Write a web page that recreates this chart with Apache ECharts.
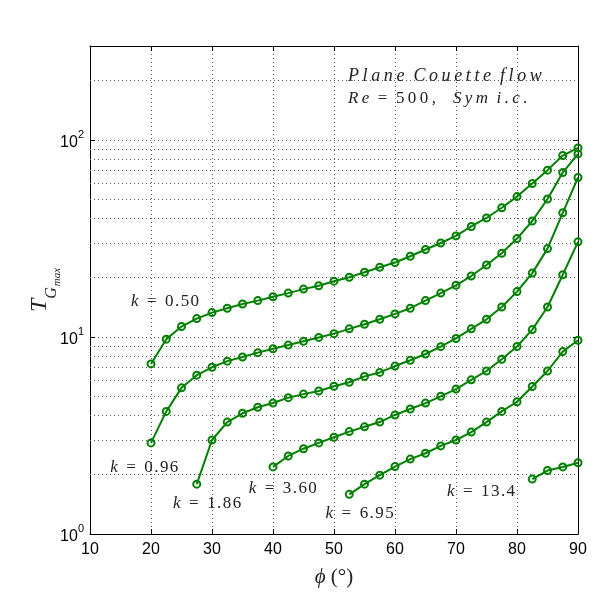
<!DOCTYPE html>
<html><head><meta charset="utf-8">
<script src="https://cdn.jsdelivr.net/npm/echarts@6/dist/echarts.min.js"></script>
<style>html,body{margin:0;padding:0;background:#fff}#c{width:599px;height:599px}</style>
</head><body><div id="c"></div>
<script>
// ---- data ----
const xTicks = [10, 20, 30, 40, 50, 60, 70, 80, 90];
const yMajor = [1, 10, 100];
const yMinor = [2, 3, 4, 5, 6, 7, 8, 9, 20, 30, 40, 50, 60, 70, 80, 90, 200];
const kNames = ['0.50', '0.96', '1.86', '3.60', '6.95', '13.4'];

const phi050 = [20, 22.5, 25, 27.5, 30, 32.5, 35, 37.5, 40, 42.5, 45, 47.5, 50, 52.5, 55, 57.5, 60, 62.5, 65, 67.5, 70, 72.5, 75, 77.5, 80, 82.5, 85, 87.5, 90];
const val050 = [7.3, 9.75, 11.3, 12.4, 13.3, 14.0, 14.7, 15.3, 16.0, 16.7, 17.5, 18.2, 19.2, 20.1, 21.3, 22.6, 23.9, 25.7, 27.8, 30.0, 32.6, 36.4, 40.2, 45.3, 51.6, 60.1, 70.3, 83.4, 91.2];

const phi096 = [20, 22.5, 25, 27.5, 30, 32.5, 35, 37.5, 40, 42.5, 45, 47.5, 50, 52.5, 55, 57.5, 60, 62.5, 65, 67.5, 70, 72.5, 75, 77.5, 80, 82.5, 85, 87.5, 90];
const val096 = [2.90, 4.19, 5.52, 6.40, 7.02, 7.54, 7.91, 8.33, 8.72, 9.10, 9.52, 9.95, 10.4, 11.0, 11.6, 12.3, 13.1, 14.0, 15.3, 16.7, 18.3, 20.4, 23.2, 26.6, 31.6, 38.8, 50.2, 68.3, 85.0];

const phi186 = [27.5, 30, 32.5, 35, 37.5, 40, 42.5, 45, 47.5, 50, 52.5, 55, 57.5, 60, 62.5, 65, 67.5, 70, 72.5, 75, 77.5, 80, 82.5, 85, 87.5, 90];
const val186 = [1.79, 3.0, 3.70, 4.10, 4.40, 4.62, 4.92, 5.13, 5.32, 5.62, 5.89, 6.31, 6.61, 7.12, 7.62, 8.20, 8.93, 9.83, 11.0, 12.3, 14.2, 17.0, 21.1, 28.1, 42.7, 64.5];

const phi360 = [40, 42.5, 45, 47.5, 50, 52.5, 55, 57.5, 60, 62.5, 65, 67.5, 70, 72.5, 75, 77.5, 80, 82.5, 85, 87.5, 90];
const val360 = [2.19, 2.49, 2.71, 2.90, 3.10, 3.31, 3.50, 3.70, 4.02, 4.31, 4.62, 5.0, 5.44, 6.06, 6.72, 7.71, 8.95, 10.9, 14.2, 20.7, 30.4];

const phi695 = [52.5, 55, 57.5, 60, 62.5, 65, 67.5, 70, 72.5, 75, 77.5, 80, 82.5, 85, 87.5, 90];
const val695 = [1.59, 1.79, 1.99, 2.20, 2.40, 2.57, 2.80, 3.0, 3.29, 3.70, 4.19, 4.69, 5.61, 6.72, 8.43, 9.63];

const phi134 = [82.5, 85, 87.5, 90];
const val134 = [1.90, 2.10, 2.19, 2.30];

// label anchor positions (data coordinates)
const labelPhi = [22.3, 18.9, 29.2, 41.6, 54.2, 74.1];
const labelVal = [15.1, 2.18, 1.43, 1.71, 1.27, 1.65];

// ---- chart ----
const SERIF = '"Liberation Serif", "DejaVu Serif", serif';
const SANS = '"Liberation Sans", Arial, sans-serif';
const GREEN = '#008000';
const TS = '\u2009';
const HS = '\u200a';
const EN = '\u2002';
const ZW = '\u200b';
const spaced = (s, sp) => s.split('').join(sp || TS);

const allPhi = [phi050, phi096, phi186, phi360, phi695, phi134];
const allVal = [val050, val096, val186, val360, val695, val134];

const gridDot = { color: '#555', width: 1, type: [1, 3] };

const series = allPhi.map((ph, i) => ({
  type: 'line',
  name: 'k = ' + kNames[i],
  data: ph.map((p, j) => [p, allVal[i][j]]),
  symbol: 'circle',
  symbolSize: 7,
  showSymbol: true,
  lineStyle: { color: GREEN, width: 2 },
  itemStyle: { color: 'rgba(255,255,255,0)', borderColor: GREEN, borderWidth: 2 },
  emphasis: { disabled: true },
  animation: false,
  z: 5,
  markPoint: {
    silent: true,
    symbol: 'circle',
    symbolSize: 0,
    animation: false,
    data: [{
      coord: [labelPhi[i], labelVal[i]],
      label: {
        show: true, position: 'inside',
        formatter: '{k|k}{n|' + ZW + EN + '=' + EN + spaced(kNames[i], HS) + '}',
        rich: {
          k: { fontFamily: SERIF, fontStyle: 'italic', fontSize: 17, color: '#222' },
          n: { fontFamily: SERIF, fontSize: 17, color: '#222' }
        }
      }
    }]
  }
}));

// minor grid lines
series.push({
  type: 'line', data: [], silent: true, animation: false,
  markLine: {
    silent: true, symbol: 'none', animation: false,
    label: { show: false },
    lineStyle: gridDot,
    data: yMinor.map(v => ({ yAxis: v }))
  }
});

const logLabel = v => {
  const l = Math.log10(v);
  const e = Math.round(l);
  if (Math.abs(l - e) > 1e-6 || yMajor.indexOf(Math.pow(10, e)) < 0) return '';
  return '{b|10}{s|' + e + '}';
};

const option = {
  backgroundColor: '#fff',
  animation: false,
  grid: { left: 90, right: 21, top: 46, bottom: 65, containLabel: false },
  xAxis: [{
    type: 'value', min: 10, max: 90, interval: 10, position: 'bottom',
    axisLine: { show: true, onZero: false, lineStyle: { color: '#000', width: 1 } },
    axisTick: { show: true, inside: true, length: 5, lineStyle: { color: '#000' } },
    axisLabel: { color: '#000', fontFamily: SANS, fontSize: 16, margin: 8 },
    splitLine: { show: true, lineStyle: gridDot },
    name: '{p|ϕ}{n|' + ZW + ' (°)}',
    nameLocation: 'middle', nameGap: 33, nameMoveOverlap: false,
    nameTextStyle: {
      rich: {
        p: { fontFamily: SERIF, fontStyle: 'italic', fontSize: 21, color: '#222' },
        n: { fontFamily: SERIF, fontSize: 21, color: '#222' }
      }
    }
  }, {
    type: 'value', min: 10, max: 90, interval: 10, position: 'top',
    axisLine: { show: true, onZero: false, lineStyle: { color: '#000', width: 1 } },
    axisTick: { show: true, inside: true, length: 5, lineStyle: { color: '#000' } },
    axisLabel: { show: false },
    splitLine: { show: false }
  }],
  yAxis: [{
    type: 'log', logBase: 10, min: 1, max: 300, interval: 1, position: 'left',
    axisLine: { show: true, onZero: false, lineStyle: { color: '#000', width: 1 } },
    axisTick: { show: true, inside: true, length: 5, lineStyle: { color: '#000' } },
    axisLabel: {
      formatter: logLabel, margin: 6,
      rich: {
        b: { fontFamily: SANS, fontSize: 16, color: '#000', lineHeight: 22, verticalAlign: 'bottom' },
        s: { fontFamily: SANS, fontSize: 11, color: '#000', lineHeight: 12, verticalAlign: 'top' }
      }
    },
    splitLine: { show: true, lineStyle: gridDot },
    name: '{t|T}{g|G}{m|max}',
    nameLocation: 'middle', nameGap: 30, nameRotate: 90, nameMoveOverlap: false,
    nameTextStyle: {
      rich: {
        t: { fontFamily: SERIF, fontStyle: 'italic', fontSize: 24, color: '#222', lineHeight: 32, verticalAlign: 'top' },
        g: { fontFamily: SERIF, fontStyle: 'italic', fontSize: 16, color: '#222', lineHeight: 32, verticalAlign: 'bottom' },
        m: { fontFamily: SERIF, fontStyle: 'italic', fontSize: 11, color: '#222', lineHeight: 32, verticalAlign: 'bottom', padding: [0, 0, -3, 1] }
      }
    }
  }, {
    type: 'log', logBase: 10, min: 1, max: 300, interval: 1, position: 'right',
    axisLine: { show: true, onZero: false, lineStyle: { color: '#000', width: 1 } },
    axisTick: { show: true, inside: true, length: 5, lineStyle: { color: '#000' } },
    axisLabel: { show: false },
    splitLine: { show: false }
  }],
  graphic: [{
    type: 'text', left: 348, top: 67, silent: true,
    style: { text: 'Plane Couette flow'.split(' ').map(w => spaced(w)).join('  '), font: 'italic 18px ' + SERIF, fill: '#222' }
  }, {
    type: 'text', left: 348, top: 90, silent: true,
    style: {
      text: '{i|' + spaced('Re') + '}{n|' + ZW + EN + '=' + EN + spaced('500,') + EN + EN + ZW + '}{i|' + spaced('Sym') + '  ' + spaced('i.c.') + '}',
      rich: {
        i: { fontFamily: SERIF, fontStyle: 'italic', fontSize: 17, fill: '#222' },
        n: { fontFamily: SERIF, fontSize: 17, fill: '#222' }
      }
    }
  }],
  series: series
};

const chart = echarts.init(document.getElementById('c'), null, { renderer: 'canvas' });
chart.setOption(option);
</script>
</body></html>
